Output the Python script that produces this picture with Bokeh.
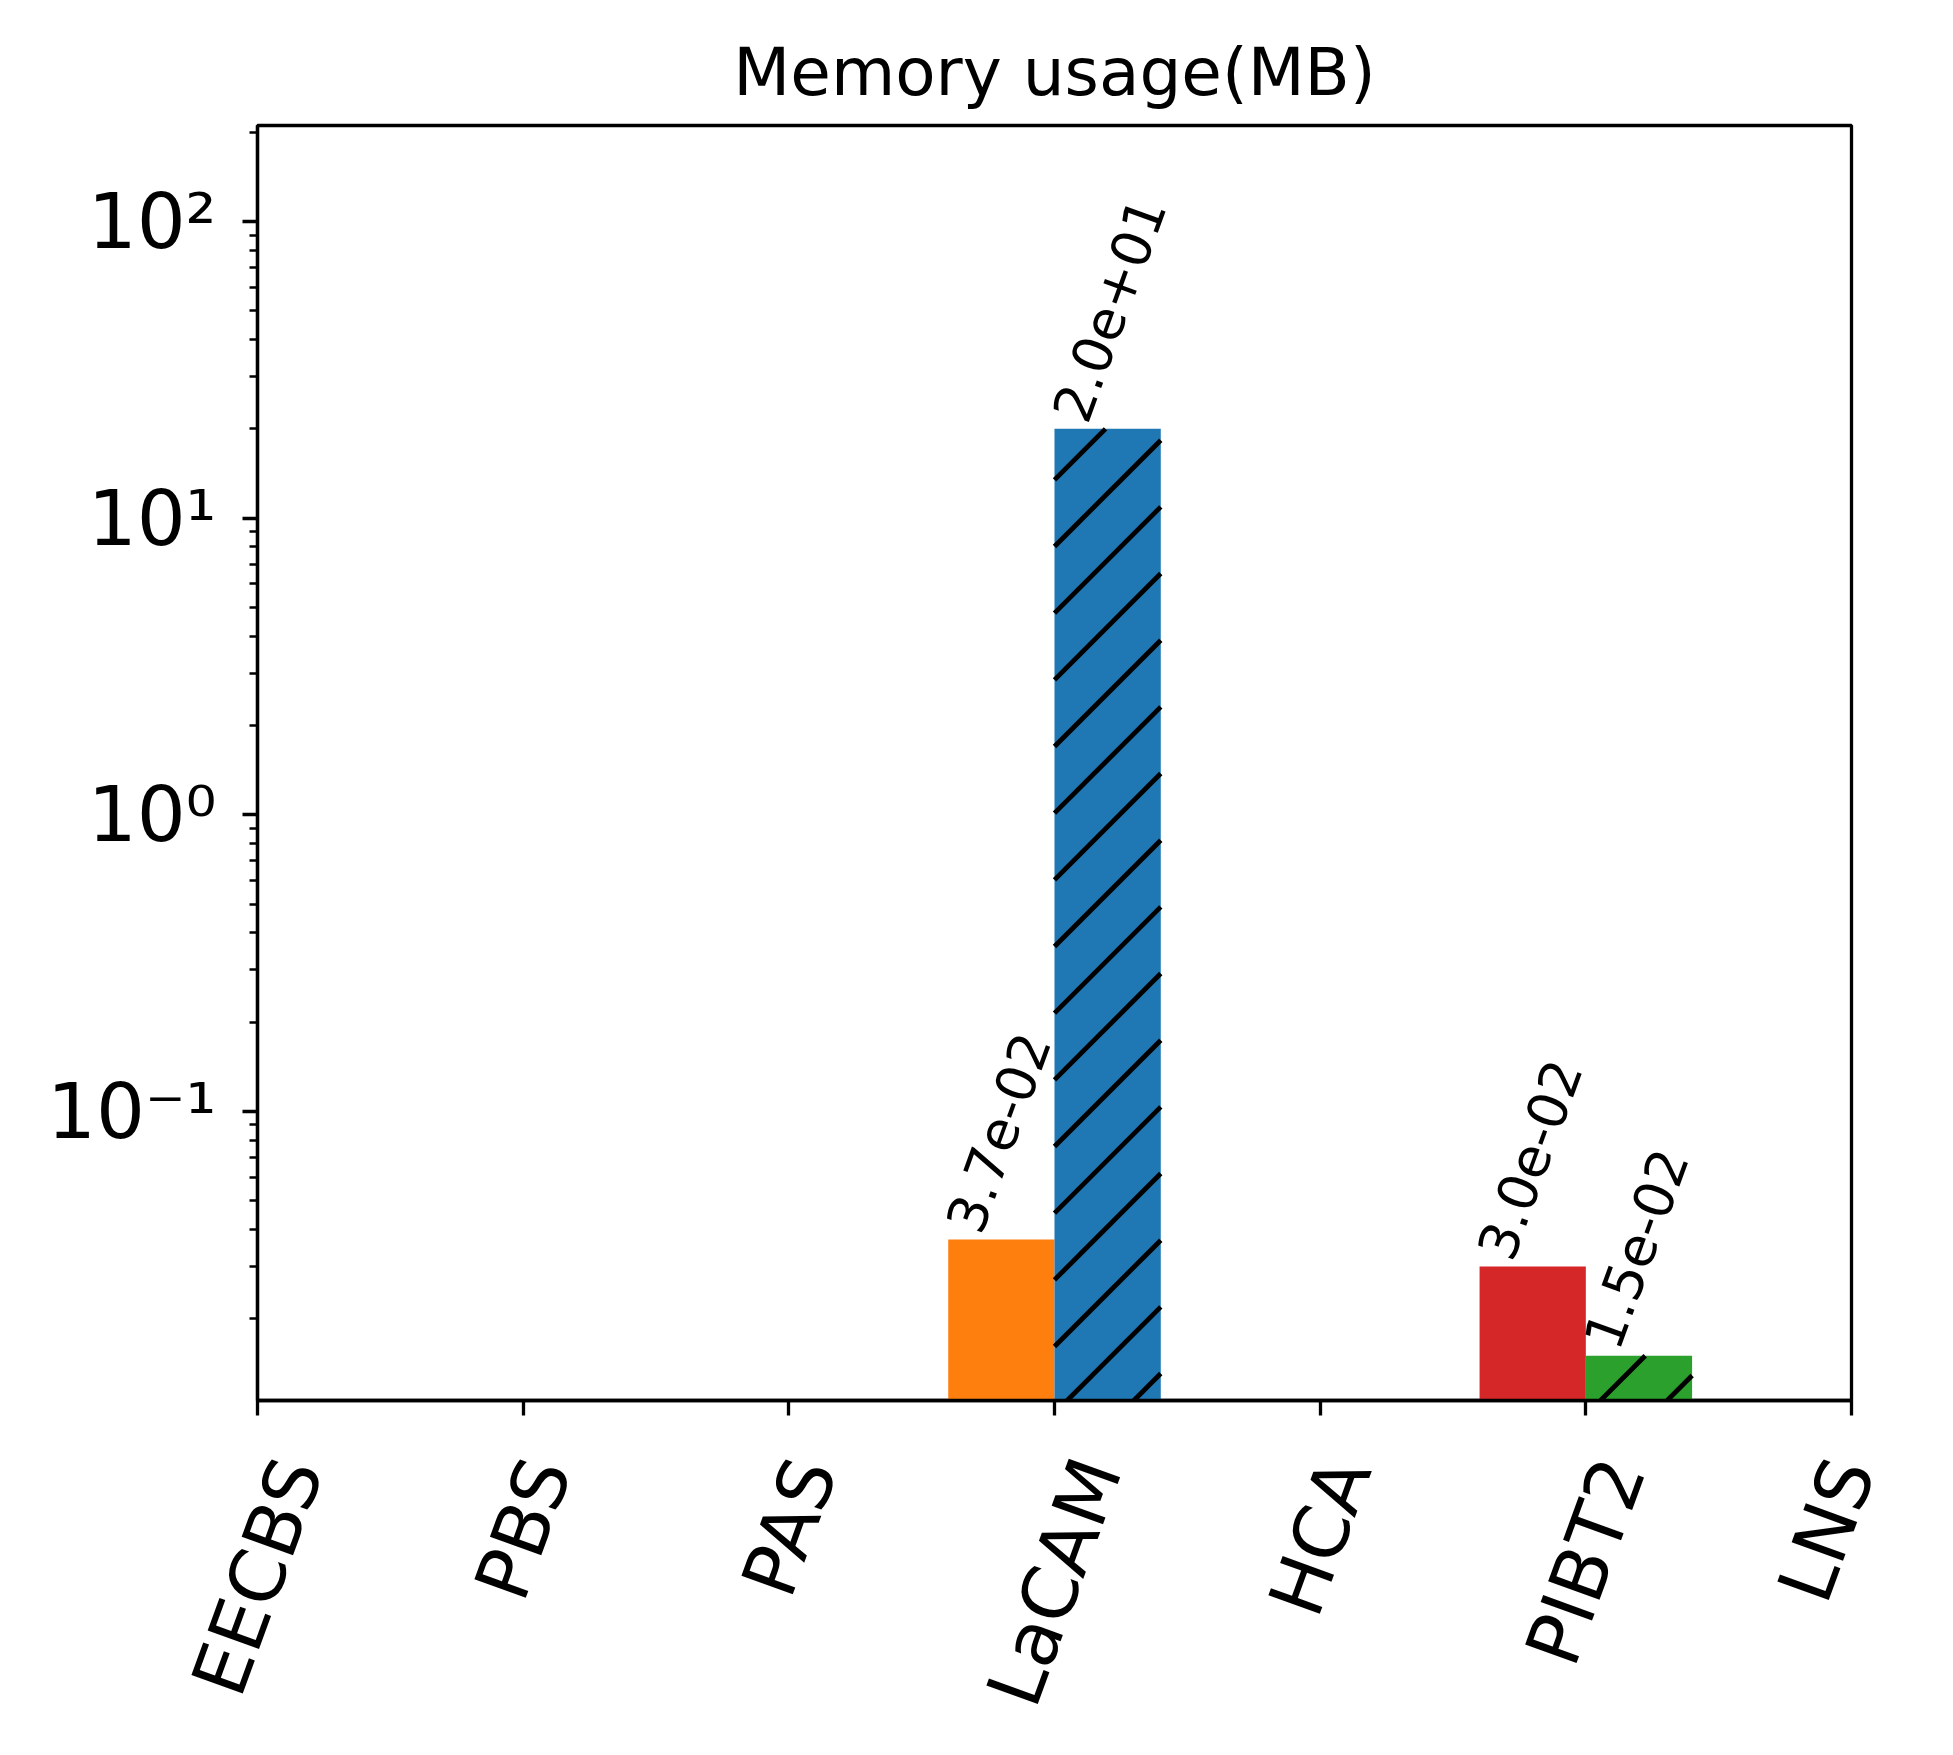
import math
from bokeh.plotting import figure
from bokeh.models import (Range1d, FixedTicker, CustomJSTickFormatter,
                          ColumnDataSource, LabelSet)
from bokeh.core.properties import value
from bokeh.embed import file_html
from bokeh.resources import INLINE

# ---------------- data ----------------
methods = ["EECBS", "PBS", "PAS", "LaCAM", "HCA", "PIBT2", "LNS"]
# solid (left) bars and hatched (right) bars; None = no bar
solid_values = [None, None, None, 3.7e-02, None, 3.0e-02, None]
hatched_values = [None, None, None, 2.0e+01, None, 1.5e-02, None]
solid_colors = [None, None, None, "#ff7f0e", None, "#d62728", None]
hatched_colors = [None, None, None, "#1f77b4", None, "#2ca02c", None]
y_major_ticks = [0.1, 1, 10, 100]
title_text = "Memory usage(MB)"

# ---------------- style / layout ----------------
FONT = "DejaVu Sans"
Y_START, Y_END = 0.0106, 210.7
BAR_W = 0.4
LW = 3.3
W, H = 1937, 1739
FL, FR, FT, FB = 257, 86, 125, 339          # borders around the frame (px)
FW, FH = W - FL - FR, H - FT - FB           # frame size (px)
X0, X1 = 0, len(methods) - 1

p = figure(width=W, height=H, y_axis_type="log",
           x_range=Range1d(X0, X1), y_range=Range1d(Y_START, Y_END),
           output_backend="svg", toolbar_location=None, title=title_text,
           min_border_left=FL, min_border_right=FR,
           min_border_top=FT, min_border_bottom=FB,
           background_fill_color="white", border_fill_color="white")

p.title.text_font = FONT
p.title.text_font_size = "66px"
p.title.text_font_style = "normal"
p.title.align = "center"
p.title.text_color = "black"
p.title.standoff = 29

p.xgrid.visible = False
p.ygrid.visible = False
p.outline_line_color = "black"
p.outline_line_width = LW
p.outline_line_alpha = 1.0

# bars
xs_s, tops_s, cols_s = [], [], []
xs_h, tops_h, cols_h = [], [], []
for i, m in enumerate(methods):
    if solid_values[i] is not None:
        xs_s.append(i - BAR_W / 2); tops_s.append(solid_values[i]); cols_s.append(solid_colors[i])
    if hatched_values[i] is not None:
        xs_h.append(i + BAR_W / 2); tops_h.append(hatched_values[i]); cols_h.append(hatched_colors[i])

src_s = ColumnDataSource(dict(x=xs_s, top=tops_s, color=cols_s,
                              left=[x - BAR_W / 2 for x in xs_s],
                              label=[f"{v:.1e}" for v in tops_s]))
src_h = ColumnDataSource(dict(x=xs_h, top=tops_h, color=cols_h,
                              left=[x - BAR_W / 2 for x in xs_h],
                              label=[f"{v:.1e}" for v in tops_h]))

p.vbar(x="x", top="top", bottom=1e-4, width=BAR_W, source=src_s,
       fill_color="color", line_color=None)
p.vbar(x="x", top="top", bottom=1e-4, width=BAR_W, source=src_h,
       fill_color="color", line_color=None)

# 45-degree "/" hatching of the hatched bars (lines x+y = k*S in screen px)
ly0, ly1 = math.log10(Y_START), math.log10(Y_END)
ppd = FH / (ly1 - ly0)
def sx(x): return FL + (x - X0) / (X1 - X0) * FW
def sy(y): return FT + (ly1 - math.log10(y)) * ppd
def dx(px): return X0 + (px - FL) / FW * (X1 - X0)
def dy(py): return 10 ** (ly1 - (py - FT) / ppd)
S = 200 / 3
hx0, hy0, hx1, hy1 = [], [], [], []
for xc, top in zip(xs_h, tops_h):
    a, b = sx(xc - BAR_W / 2), sx(xc + BAR_W / 2)
    t, bt = sy(top), FT + FH
    k = math.ceil((a + t) / S)
    while k * S < b + bt:
        d = k * S
        xa, xb = max(a, d - bt), min(b, d - t)
        if xb > xa:
            hx0.append(dx(xa)); hy0.append(dy(d - xa))
            hx1.append(dx(xb)); hy1.append(dy(d - xb))
        k += 1
p.segment(x0=hx0, y0=hy0, x1=hx1, y1=hy1, line_color="black", line_width=4.8)

for src in (src_s, src_h):
    p.add_layout(LabelSet(x="left", y="top", text="label", source=src,
                          angle=70, angle_units="deg",
                          x_offset=33, y_offset=3,
                          text_align="left", text_baseline="alphabetic",
                          text_font=value(FONT), text_font_size=value("54px"),
                          text_color="black"))

# axes
for ax in (p.xaxis[0], p.yaxis[0]):
    ax.axis_line_color = "black"
    ax.axis_line_width = LW
    ax.major_tick_line_color = "black"
    ax.major_tick_line_width = LW
    ax.major_tick_in = 0
    ax.major_tick_out = 15
    ax.minor_tick_line_color = "black"
    ax.minor_tick_line_width = 2.5
    ax.minor_tick_in = 0
    ax.minor_tick_out = 8

# x axis: the category ticks are drawn as (styled) minor ticks at integer
# positions; invisible major ticks carry the rotated labels, shifted so that
# each label is centred under its category tick (kept inside the range).
XFS = 75
adv = {"E": .632, "C": .698, "B": .686, "S": .635, "P": .603, "A": .684,
       "L": .557, "a": .613, "M": .863, "H": .752, "I": .295, "T": .611,
       "2": .636, "N": .748}
cos70 = math.cos(math.radians(70))
label_pos = []
for i, m in enumerate(methods):
    wpx = sum(adv.get(c, .6) for c in m) * XFS
    label_pos.append(min(X1, i + (wpx / 2 * cos70) / FW * (X1 - X0)))
xa = p.xaxis[0]
xa.ticker = FixedTicker(ticks=label_pos, minor_ticks=list(range(len(methods))))
xa.major_tick_line_color = None
xa.minor_tick_out = 15
xa.minor_tick_line_width = LW
xa.formatter = CustomJSTickFormatter(args=dict(names=methods),
                                     code="return names[Math.round(tick)];")
xa.major_label_orientation = math.radians(70)
xa.major_label_text_font = FONT
xa.major_label_text_font_size = f"{XFS}px"
xa.major_label_text_color = "black"
xa.major_label_standoff = 46

minor = [m * 10.0 ** e for e in range(-2, 3) for m in range(2, 10)]
p.yaxis.ticker = FixedTicker(ticks=y_major_ticks, minor_ticks=minor)
p.yaxis.formatter = CustomJSTickFormatter(code="""
const sup = {"-":"\u207b","0":"\u2070","1":"\u00b9","2":"\u00b2","3":"\u00b3",
             "4":"\u2074","5":"\u2075","6":"\u2076","7":"\u2077","8":"\u2078","9":"\u2079"};
const e = Math.round(Math.log10(tick));
return "10" + String(e).split("").map(c => sup[c]).join("");
""")
p.yaxis.major_label_text_font = FONT
p.yaxis.major_label_text_font_size = "77px"
p.yaxis.major_label_text_color = "black"
p.yaxis.major_label_standoff = 26

open("out.html", "w").write(file_html(p, INLINE))
